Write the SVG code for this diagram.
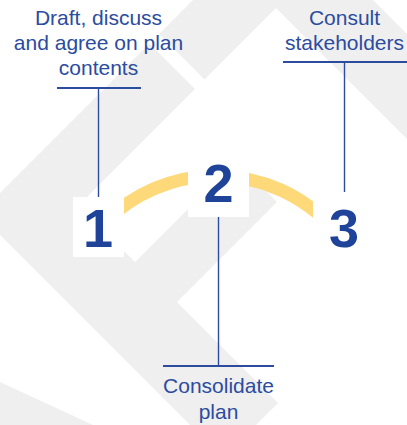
<svg xmlns="http://www.w3.org/2000/svg" width="407" height="425" viewBox="0 0 407 425">
  <style>
    .bg { fill: #efefef; }
    .label { font-family: "Liberation Sans", Arial, sans-serif; font-size: 21px; fill: #2b4c9f; text-anchor: middle; }
    .num { font-family: "Liberation Sans", Arial, sans-serif; font-size: 54px; font-weight: bold; fill: #1e4399; text-anchor: middle; }
    .box { fill: #ffffff; }
    .rule { stroke: #2b4c9f; stroke-width: 2.2; fill: none; }
    .stem { stroke: #2b4c9f; stroke-width: 1.4; fill: none; }
    .arc { stroke: #fdd97a; stroke-width: 13; fill: none; }
  </style>
  <defs>
    <clipPath id="arcClip"><rect x="100" y="100" width="213" height="200"/></clipPath>
  </defs>
  <rect width="407" height="425" fill="#ffffff"/>
  <g id="background">
    <polygon class="bg" points="193,0 373,0 407,34 407,139 276,8 204.5,79.5 159,34"/>
    <polygon class="bg" points="149.5,43.5 195,89 78.5,205.5 135,262 236,161 277,202 177,302 278,403 256,425 190,425 0,235 0,193"/>
    <polygon class="bg" points="0,382 93,425 0,425"/>
  </g>
  <g id="connectors">
    <path class="arc" clip-path="url(#arcClip)" d="M 105,222 A 157 157 0 0 1 330,225"/>
    <line class="stem" x1="98.5" y1="88" x2="98.5" y2="197"/>
    <line class="rule" x1="57" y1="88" x2="141" y2="88"/>
    <line class="stem" x1="218.5" y1="217" x2="218.5" y2="366"/>
    <line class="rule" x1="163" y1="366" x2="274" y2="366"/>
    <line class="stem" x1="344.5" y1="62" x2="344.5" y2="192"/>
    <line class="rule" x1="283" y1="62" x2="407" y2="62"/>
  </g>
  <g id="node-1">
    <text class="label" x="98.5" y="25">Draft, discuss</text>
    <text class="label" x="98.5" y="50">and agree on plan</text>
    <text class="label" x="98.5" y="75">contents</text>
    <rect class="box" x="73" y="197" width="51" height="60"/>
    <text class="num" x="98" y="247">1</text>
  </g>
  <g id="node-2">
    <rect class="box" x="188" y="156" width="61" height="61"/>
    <text class="num" x="218.5" y="202">2</text>
    <text class="label" x="218.5" y="393">Consolidate</text>
    <text class="label" x="218.5" y="419">plan</text>
  </g>
  <g id="node-3">
    <text class="label" x="344.5" y="25">Consult</text>
    <text class="label" x="344.5" y="50">stakeholders</text>
    <rect class="box" x="313" y="192" width="62" height="65"/>
    <text class="num" x="344" y="247">3</text>
  </g>
</svg>
